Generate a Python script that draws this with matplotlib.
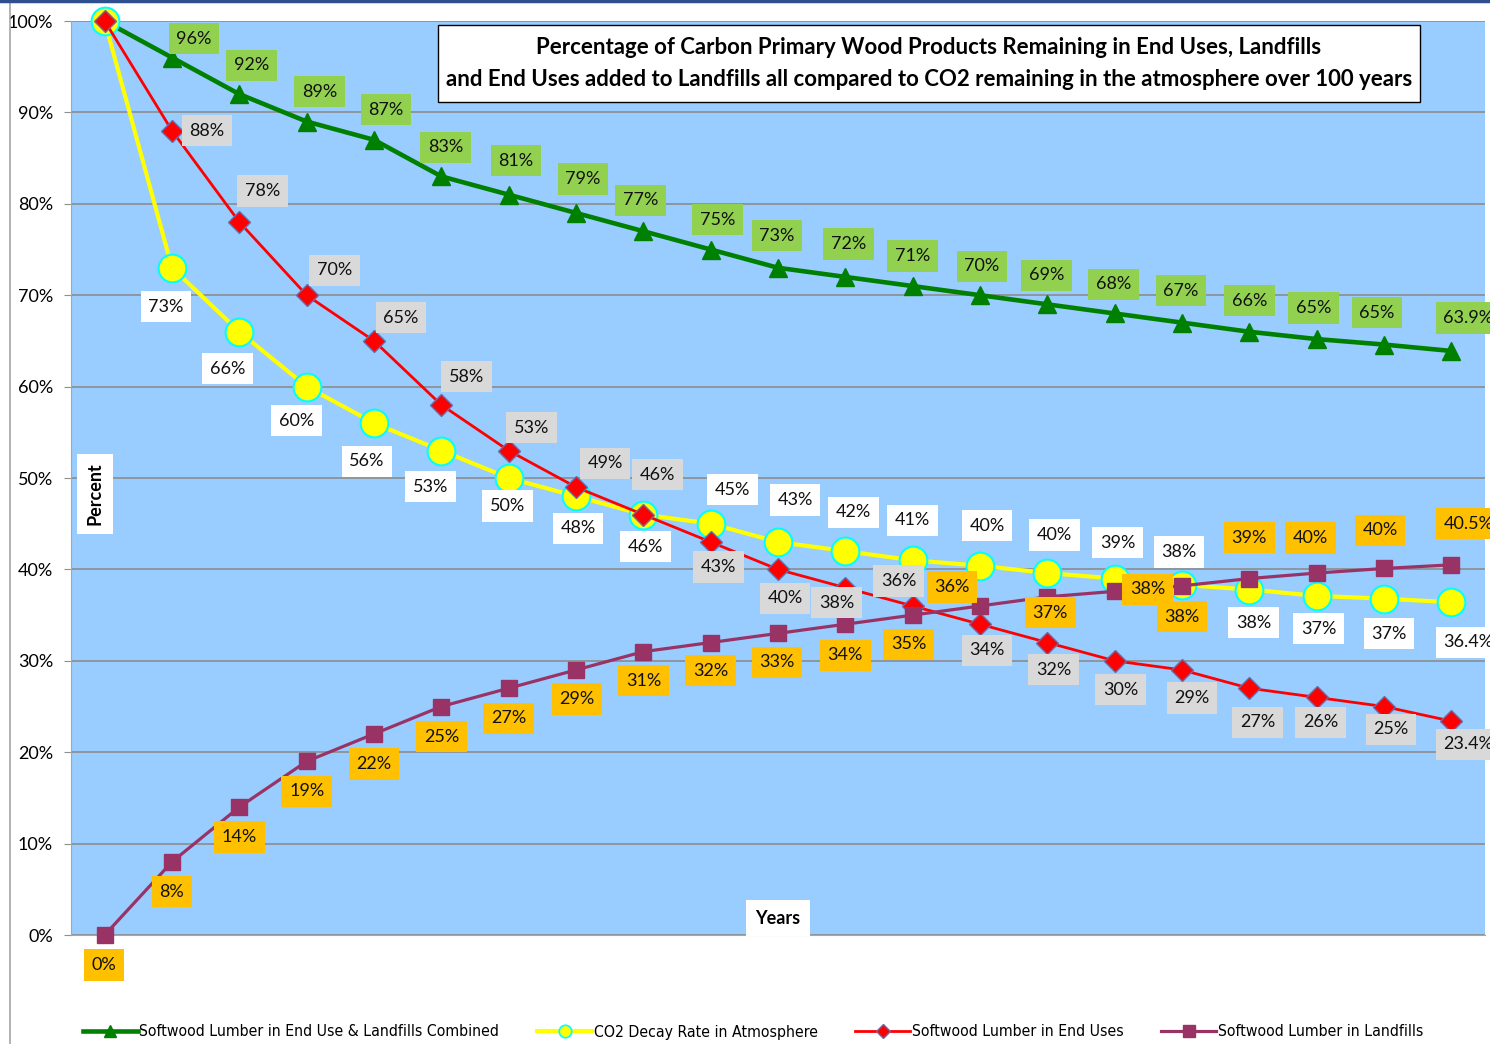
import numpy as np
import matplotlib; matplotlib.use('Agg'); import matplotlib.pyplot as plt
from matplotlib.lines import Line2D
from matplotlib.patches import Rectangle

years = np.arange(0, 101, 5)
combined = [100, 96, 92, 89, 87, 83, 81, 79, 77, 75, 73, 72, 71, 70, 69, 68, 67, 66, 65.2, 64.6, 63.9]
co2 = [100, 73, 66, 60, 56, 53, 50, 48, 46, 45, 43, 42, 41, 40.4, 39.6, 39, 38.3, 37.8, 37.1, 36.8, 36.4]
end_uses = [100, 88, 78, 70, 65, 58, 53, 49, 46, 43, 40, 38, 36, 34, 32, 30, 29, 27, 26, 25, 23.4]
landfills = [0, 8, 14, 19, 22, 25, 27, 29, 31, 32, 33, 34, 35, 36, 37, 37.6, 38.2, 39, 39.6, 40.1, 40.5]
names = ['Softwood Lumber in End Use & Landfills Combined', 'CO2 Decay Rate in Atmosphere',
         'Softwood Lumber in End Uses', 'Softwood Lumber in Landfills']
title = ('Percentage of Carbon Primary Wood Products Remaining in End Uses, Landfills',
         'and End Uses added to Landfills all compared to CO2 remaining in the atmosphere over 100 years')

# label offsets from each point, in pixels (None = no label)
off_g = [None, (22, 19), (12, 29), (13, 30), (12, 30), (4, 29), (7, 34), (7, 34), (-3, 31), (7, 30), (-1, 32),
         (3, 33), (0, 30), (2, 29), (-1, 29), (-1, 29), (-1, 32), (0, 31), (-3, 31), (-7, 32), (17, 33)]
off_y = [None, (-6, -39), (-12, -37), (-10, -34), (-7, -38), (-11, -36), (-1, -28), (2, -32), (2, -32), (22, 34),
         (17, 42), (8, 39), (0, 40), (7, 40), (7, 38), (3, 36), (-3, 33), (4, -33), (2, -33), (5, -35), (17, -40)]
off_r = [None, (35, 0), (23, 31), (28, 25), (27, 23), (25, 28), (23, 23), (29, 24), (14, 40), (8, -25), (7, -29),
         (-9, -15), (-14, 25), (7, -26), (6, -27), (6, -29), (10, -28), (8, -34), (4, -25), (7, -23), (17, -23)]
off_p = [(-1, -30), (0, -30), (0, -30), (0, -30), (0, -30), (0, -30), (0, -30), (1, -29), (0, -29), (0, -28),
         (-1, -29), (0, -31), (-4, -29), (-28, 19), (3, -16), (33, 2), (0, -31), (0, 41), (-6, 35), (-4, 38), (17, 41)]

FONT = ['Lato', 'DejaVu Sans']
plt.rcParams['font.family'] = FONT

W, H = 1490, 1044
fig = plt.figure(figsize=(W/100, H/100), dpi=100)
ax = fig.add_axes([71/W, 1-935/H, 1414/W, 914/H])
ax.set_facecolor('#99CCFF')
ax.set_xlim(-2.5, 102.5); ax.set_ylim(0, 100)
ax.set_yticks(range(0, 101, 10))
ax.set_yticklabels([f'{v}%' for v in range(0, 101, 10)], fontsize=13)
ax.set_xticks([])
ax.tick_params(axis='y', length=5, color='#909090', pad=8)
ax.grid(axis='y', color='#8C8C8C', lw=1.2)
ax.set_axisbelow(True)
for s in ('top', 'right'):
    ax.spines[s].set_visible(False)
for s in ('left', 'bottom'):
    ax.spines[s].set_color('#A6A6A6')

ax.plot(years, combined, '-^', color='#008000', lw=3.3, ms=13, clip_on=False, zorder=3)
ax.plot(years, co2, '-o', color='#FFFF00', lw=3, ms=20, mfc='#FFFF00', mec='#00FFFF', mew=1.5, clip_on=False, zorder=4)
ax.plot(years, end_uses, '-D', color='#FF0000', lw=2, ms=11.5, mfc='#FF0000', mec='#6B6BA8', mew=1, clip_on=False, zorder=5)
ax.plot(years, landfills, '-s', color='#993366', lw=2.3, ms=11, clip_on=False, zorder=6)

for vals, offs, bg in [(combined, off_g, '#92D050'), (co2, off_y, 'white'),
                       (end_uses, off_r, '#D9D9D9'), (landfills, off_p, '#FFC000')]:
    for i, (x, v, o) in enumerate(zip(years, vals, offs)):
        if o is None:
            continue
        txt = f'{v:.1f}%' if i == len(vals) - 1 else f'{v:.0f}%'
        ax.annotate(txt, (x, v), xytext=o, textcoords='offset pixels', ha='center', va='center',
                    fontsize=13, color='#111111', annotation_clip=False, zorder=10,
                    bbox=dict(boxstyle='square,pad=0.42', fc=bg, ec='none'))

# title box
fig.patches.append(Rectangle((438/W, 1-102/H), 982/W, 77/H, transform=fig.transFigure,
                             fc='white', ec='black', lw=1, zorder=20))
fig.text(929/W, 1-47/H, title[0], ha='center', va='center', fontsize=16, fontweight='bold', zorder=21)
fig.text(929/W, 1-79/H, title[1], ha='center', va='center', fontsize=16, fontweight='bold', zorder=21)

fig.text(95/W, 1-494/H, 'Percent', rotation=90, ha='center', va='center', fontsize=13, fontweight='bold',
         bbox=dict(boxstyle='square,pad=0.5', fc='white', ec='none'), zorder=21)
fig.text(778/W, 1-918/H, 'Years', ha='center', va='center', fontsize=13, fontweight='bold',
         bbox=dict(boxstyle='square,pad=0.5', fc='white', ec='none'), zorder=21)

# chart frame edges
fig.add_artist(Line2D([10/W, 10/W], [0, 1], color='#A6A6A6', lw=1.2))
fig.add_artist(Line2D([0, 1], [1-1/H, 1-1/H], color='#2F4F8F', lw=2.5))

handles = [Line2D([], [], color='#008000', lw=3.3, marker='^', ms=9),
           Line2D([], [], color='#FFFF00', lw=3, marker='o', ms=9, mec='#00FFFF', mew=1.2),
           Line2D([], [], color='#FF0000', lw=2, marker='D', ms=7, mec='#6B6BA8'),
           Line2D([], [], color='#993366', lw=2.3, marker='s', ms=9)]
fig.legend(handles, names, loc='center', bbox_to_anchor=(753/W, 1-1032/H), ncol=4, frameon=False,
           handlelength=3.5, handletextpad=0.1, columnspacing=2.4,
           prop={'family': 'DejaVu Sans', 'stretch': 'condensed', 'size': 11.3})

fig.savefig('out.png', dpi=100)
